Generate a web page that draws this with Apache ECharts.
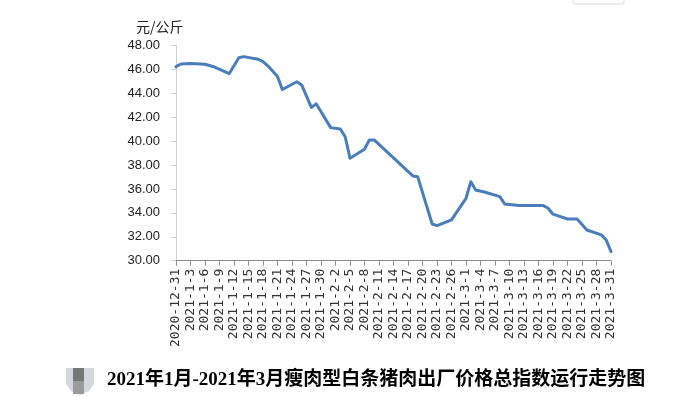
<!DOCTYPE html>
<html>
<head>
<meta charset="utf-8">
<title>瘦肉型白条猪肉出厂价格总指数</title>
<script src="https://cdn.jsdelivr.net/npm/echarts@6/dist/echarts.min.js"></script>
<style>
  html, body { margin: 0; padding: 0; background: #fff; }
  #main { width: 688px; height: 397px; }
</style>
</head>
<body>
<div id="main"></div>
<script>
// 横轴：2020-12-31 到 2021-3-31 每天一个类目
var startDate = new Date(2020, 11, 31);
var dayCount = 91;
var categories = [];
for (var i = 0; i < dayCount; i++) {
    var d = new Date(startDate.getTime());
    d.setDate(d.getDate() + i);
    categories.push(d.getFullYear() + '-' + (d.getMonth() + 1) + '-' + d.getDate());
}

// 价格点（元/公斤）
var priceDates = [
    '2020-12-31', '2021-1-1', '2021-1-3', '2021-1-6', '2021-1-8', '2021-1-11',
    '2021-1-13', '2021-1-14', '2021-1-17', '2021-1-18', '2021-1-19', '2021-1-21',
    '2021-1-22', '2021-1-25', '2021-1-26', '2021-1-28', '2021-1-29', '2021-2-1',
    '2021-2-3', '2021-2-4', '2021-2-5', '2021-2-8', '2021-2-9', '2021-2-10',
    '2021-2-18', '2021-2-19', '2021-2-22', '2021-2-23', '2021-2-26', '2021-3-1',
    '2021-3-2', '2021-3-3', '2021-3-5', '2021-3-8', '2021-3-9', '2021-3-12',
    '2021-3-17', '2021-3-18', '2021-3-19', '2021-3-22', '2021-3-24', '2021-3-26',
    '2021-3-29', '2021-3-30', '2021-3-31'
];
var priceValues = [
    46.23, 46.45, 46.50, 46.43, 46.20, 45.64,
    46.98, 47.07, 46.85, 46.65, 46.30, 45.40,
    44.32, 44.97, 44.70, 42.82, 43.12, 41.13,
    41.02, 40.37, 38.57, 39.32, 40.10, 40.10,
    37.09, 37.03, 33.07, 32.93, 33.41, 35.22,
    36.61, 35.92, 35.73, 35.36, 34.75, 34.61,
    34.61, 34.39, 33.89, 33.49, 33.49, 32.57,
    32.16, 31.74, 30.76
];

var seriesData = categories.map(function (c) {
    var k = priceDates.indexOf(c);
    return k >= 0 ? priceValues[k] : null;
});

var myChart = echarts.init(document.getElementById('main'));
myChart.setOption({
    backgroundColor: '#fff',
    animation: false,
    grid: {
        left: 176,
        right: 77,
        top: 45.5,
        bottom: 136.3,
        containLabel: false,
        outerBoundsMode: 'none'
    },
    xAxis: {
        type: 'category',
        data: categories,
        boundaryGap: false,
        axisLine: { lineStyle: { color: '#8c8c8c', width: 1 } },
        axisTick: { interval: 2, length: 5, lineStyle: { color: '#8c8c8c' } },
        axisLabel: {
            interval: 2,
            rotate: 90,
            margin: 8,
            color: '#333',
            fontSize: 13,
            fontFamily: 'DejaVu Sans Mono'
        },
        splitLine: { show: false }
    },
    yAxis: {
        type: 'value',
        min: 30,
        max: 48,
        interval: 2,
        axisLine: { show: true, lineStyle: { color: '#d0d0d0', width: 1 } },
        axisTick: { show: true, length: 5, lineStyle: { color: '#d0d0d0' } },
        axisLabel: {
            margin: 16,
            color: '#222',
            fontSize: 13,
            fontFamily: 'Liberation Sans',
            formatter: function (v) { return v.toFixed(2); }
        },
        splitLine: { show: false }
    },
    graphic: [
        {
            type: 'text',
            left: 136,
            top: 20,
            style: {
                text: '元/公斤',
                fill: '#222',
                font: '14px "Noto Sans CJK SC", "Liberation Sans"'
            }
        },
        {
            type: 'text',
            left: 107,
            top: 371,
            style: {
                text: '2021年1月-2021年3月瘦肉型白条猪肉出厂价格总指数运行走势图',
                fill: '#000',
                font: 'bold 19px "Liberation Serif", "Noto Sans CJK SC"'
            }
        },
        // 左下角的小图标
        {
            type: 'polygon',
            shape: {
                points: [[66, 368], [94, 368], [94, 384], [89, 391], [80, 395], [71, 391], [66, 384]]
            },
            style: { fill: '#d5d7dc' }
        },
        { type: 'rect', shape: { x: 73, y: 368, width: 11, height: 13 }, style: { fill: '#777' } },
        { type: 'rect', shape: { x: 73, y: 381, width: 11, height: 13 }, style: { fill: '#9a9a9a' } },
        // 右上角的小框
        {
            type: 'rect',
            shape: { x: 573, y: -6, width: 51, height: 10, r: 2 },
            style: { fill: '#fff', stroke: '#d8d8d8', lineWidth: 1 }
        }
    ],
    series: [{
        type: 'line',
        data: seriesData,
        connectNulls: true,
        showSymbol: false,
        symbol: 'none',
        lineStyle: { color: '#4a7ebb', width: 3, join: 'round', cap: 'round' },
        itemStyle: { color: '#4a7ebb' }
    }]
});
</script>
</body>
</html>
